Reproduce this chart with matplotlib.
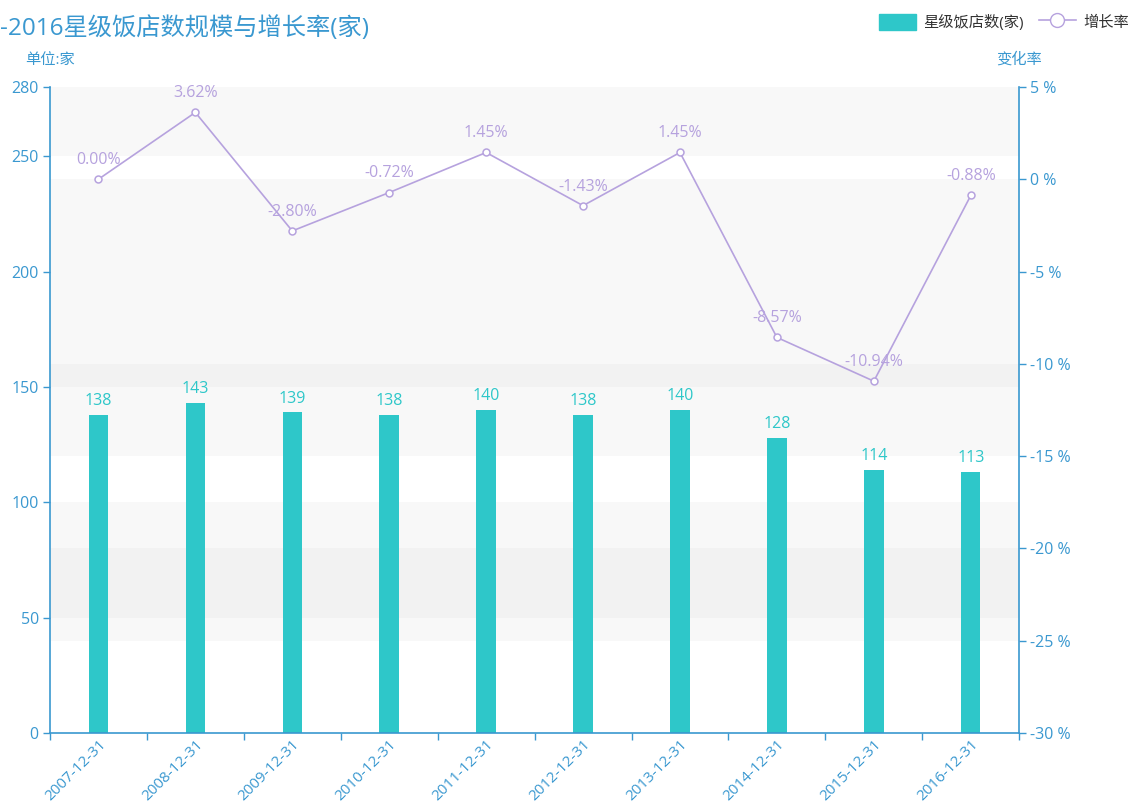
import numpy as np
import matplotlib.pyplot as plt
from matplotlib.lines import Line2D
from matplotlib.patches import FancyBboxPatch

plt.rcParams['font.family'] = ['Open Sans', 'Noto Sans CJK SC', 'DejaVu Sans']

dates = ['2007-12-31', '2008-12-31', '2009-12-31', '2010-12-31', '2011-12-31',
         '2012-12-31', '2013-12-31', '2014-12-31', '2015-12-31', '2016-12-31']
hotels = [138, 143, 139, 138, 140, 138, 140, 128, 114, 113]
growth = [0.00, 3.62, -2.80, -0.72, 1.45, -1.43, 1.45, -8.57, -10.94, -0.88]

left_ticks = [0, 50, 100, 150, 200, 250, 280]
right_ticks = [-30, -25, -20, -15, -10, -5, 0, 5]

bar_c = '#2ec7c9'
line_c = '#b6a2de'
axis_c = '#3a98d0'
band_c = (0.55, 0.55, 0.55, 0.055)

fig = plt.figure(figsize=(11.35, 8.09), dpi=100)
ax = fig.add_axes([0.044, 0.094, 0.854, 0.7985])
ax2 = ax.twinx()

x = np.arange(len(dates))
ax.set_xlim(-0.5, len(dates) - 0.5)
ax.set_ylim(0, 280)
ax2.set_ylim(-30, 5)

# split areas of both y axes (every second band shaded)
for i in range(1, len(left_ticks) - 1, 2):
    ax.axhspan(left_ticks[i], left_ticks[i + 1], color=band_c, lw=0, zorder=0)
r_lo, r_hi = right_ticks[0], right_ticks[-1]
for i in range(1, len(right_ticks) - 1, 2):
    a = (right_ticks[i] - r_lo) / (r_hi - r_lo) * 280
    b = (right_ticks[i + 1] - r_lo) / (r_hi - r_lo) * 280
    ax.axhspan(a, b, color=band_c, lw=0, zorder=0)

bars = ax.bar(x, hotels, width=0.2, color=bar_c, zorder=2)
for xi, v in zip(x, hotels):
    ax.text(xi, v + 2.5, str(v), ha='center', va='bottom', color=bar_c, fontsize=11.5)

ax2.plot(x, growth, color=line_c, lw=1.2, marker='o', ms=5,
         mfc='white', mec=line_c, mew=1.1, zorder=3)
for xi, v in zip(x, growth):
    ax2.text(xi, v + 0.6, f'{v:.2f}%', ha='center', va='bottom', color=line_c, fontsize=11.5)

# axes styling
for a_ in (ax, ax2):
    a_.spines['top'].set_visible(False)
    for s in ('left', 'right', 'bottom'):
        a_.spines[s].set_color(axis_c)
        a_.spines[s].set_linewidth(1.2)
ax.spines['right'].set_visible(False)
ax2.spines['left'].set_visible(False)
ax2.spines['bottom'].set_visible(False)

ax.set_yticks(left_ticks)
ax.tick_params(axis='y', colors=axis_c, labelsize=11.5, length=5, width=1, pad=3)
ax2.set_yticks(right_ticks)
ax2.set_yticklabels([f'{t} %' for t in right_ticks])
ax2.tick_params(axis='y', colors=axis_c, labelsize=11.5, length=5, width=1, pad=3)

ax.set_xticks(np.arange(-0.5, len(dates), 1.0))
ax.set_xticklabels([])
ax.set_xticks(x, minor=True)
ax.set_xticklabels(dates, minor=True, rotation=45, ha='right', va='top',
                   rotation_mode='anchor', color=axis_c, fontsize=11)
ax.tick_params(axis='x', which='major', colors=axis_c, length=5, width=1)
ax.tick_params(axis='x', which='minor', length=0, pad=3)

ax.text(0.0, 1.03, '单位:家', transform=ax.transAxes, ha='center', va='bottom',
        color=axis_c, fontsize=11)
ax2.text(1.0, 1.03, '变化率', transform=ax2.transAxes, ha='center', va='bottom',
         color=axis_c, fontsize=11)

# title as it shows in the picture (its start is cut off there)
fig.text(0.0, 0.965, '-2016星级饭店数规模与增长率(家)', ha='left', va='center',
         color=axis_c, fontsize=17.5)

# legend
handles = [
    FancyBboxPatch((0, 0), 1, 1, boxstyle='round,pad=0.1', color=bar_c),
    Line2D([], [], color=line_c, lw=1.2, marker='o', ms=10, mfc='white', mec=line_c),
]
fig.legend(handles, ['星级饭店数(家)', '增长率'], loc='upper right',
           bbox_to_anchor=(1.007, 1.0), ncol=2, frameon=False, fontsize=11,
           labelcolor='#333333', handlelength=2.4, handleheight=1.3,
           columnspacing=1.0, handletextpad=0.5)

fig.savefig('out.png', dpi=100)
